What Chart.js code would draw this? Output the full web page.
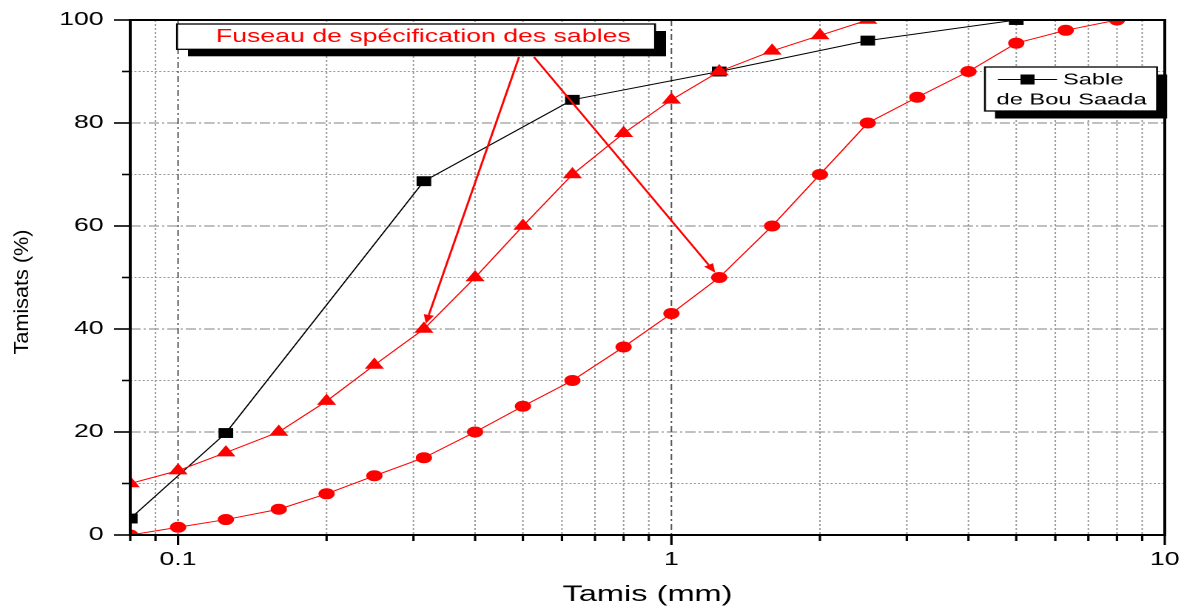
<!DOCTYPE html>
<html>
<head>
<meta charset="utf-8">
<script src="https://cdn.jsdelivr.net/npm/chart.js@4.4.1/dist/chart.umd.min.js"></script>
<style>
  html, body { margin: 0; padding: 0; background: #fff; overflow: hidden; }
  /* the reference picture is stretched horizontally, so the canvas is too */
  #courbe { width: 800px; height: 608px; transform: scaleX(1.48); transform-origin: 0 0; }
</style>
</head>
<body>
<canvas id="courbe" width="800" height="608"></canvas>
<script>
const FONT = "'Liberation Sans', Arial, sans-serif";

// fuseau de spécification - limite supérieure
const sievesUpper = [0.08, 0.1, 0.125, 0.16, 0.2, 0.25, 0.315, 0.4, 0.5, 0.63, 0.8, 1, 1.25, 1.6, 2, 2.5];
const passingUpper = [10, 12.5, 16, 20, 26, 33, 40, 50, 60, 70, 78, 84.5, 90, 94, 97, 100];

// fuseau de spécification - limite inférieure
const sievesLower = [0.08, 0.1, 0.125, 0.16, 0.2, 0.25, 0.315, 0.4, 0.5, 0.63, 0.8, 1, 1.25, 1.6, 2, 2.5, 3.15, 4, 5, 6.3, 8];
const passingLower = [0, 1.5, 3, 5, 8, 11.5, 15, 20, 25, 30, 36.5, 43, 50, 60, 70, 80, 85, 90, 95.5, 98, 100];

// sable de Bou Saada
const sievesSand = [0.08, 0.125, 0.315, 0.63, 1.25, 2.5, 5];
const passingSand = [3.2, 19.8, 68.7, 84.5, 90, 96, 100];

const xTickValues = [0.08, 0.09, 0.1, 0.2, 0.3, 0.4, 0.5, 0.6, 0.7, 0.8, 0.9, 1, 2, 3, 4, 5, 6, 7, 8, 9, 10];
const xTickLabels = { 0.1: '0.1', 1: '1', 10: '10' };
const yTickLabels = [0, 20, 40, 60, 80, 100];

const annotationText = 'Fuseau de spécification des sables';
const arrowTargets = [[0.315, 40], [1.25, 50]];
const legendLines = ['Sable', 'de Bou Saada'];

const pts = (xs, ys) => xs.map((x, i) => ({ x, y: ys[i] }));

function line(ctx, x0, y0, x1, y1) {
  ctx.beginPath();
  ctx.moveTo(x0, y0);
  ctx.lineTo(x1, y1);
  ctx.stroke();
}

function arrow(ctx, x0, y0, x1, y1) {
  const ang = Math.atan2(y1 - y0, x1 - x0);
  const head = 9, half = 3.5;
  const bx = x1 - head * Math.cos(ang), by = y1 - head * Math.sin(ang);
  line(ctx, x0, y0, bx, by);
  ctx.beginPath();
  ctx.moveTo(x1, y1);
  ctx.lineTo(bx + half * Math.sin(ang), by - half * Math.cos(ang));
  ctx.lineTo(bx - half * Math.sin(ang), by + half * Math.cos(ang));
  ctx.closePath();
  ctx.fill();
}

function shadowBox(ctx, l, t, r, b, dx, dy) {
  ctx.fillStyle = '#000';
  ctx.fillRect(l + dx, t + dy, r - l, b - t);
  ctx.fillStyle = '#fff';
  ctx.fillRect(l, t, r - l, b - t);
  ctx.strokeStyle = '#000';
  ctx.lineWidth = 1.3;
  ctx.strokeRect(l, t, r - l, b - t);
}

const decor = {
  id: 'decor',
  beforeDatasetsDraw(chart) {
    const { ctx, chartArea: a, scales: { x, y } } = chart;
    ctx.save();
    ctx.lineWidth = 1;
    y.ticks.forEach(t => {
      if (t.value <= 0 || t.value >= 100) return;
      const py = y.getPixelForValue(t.value);
      const major = yTickLabels.includes(t.value);
      ctx.strokeStyle = major ? '#808080' : '#9a9a9a';
      ctx.setLineDash(major ? [7, 2, 1.5, 2] : [1.4, 1.4]);
      line(ctx, a.left, py, a.right, py);
    });
    x.ticks.forEach(t => {
      if (t.value <= x.min || t.value >= x.max) return;
      const px = x.getPixelForValue(t.value);
      const major = t.value in xTickLabels;
      ctx.strokeStyle = major ? '#555' : '#9a9a9a';
      ctx.setLineDash(major ? [6, 3, 2, 3] : [2, 2]);
      line(ctx, px, a.top, px, a.bottom);
    });
    ctx.restore();
  },
  afterDraw(chart) {
    const { ctx, chartArea: a, scales: { x, y } } = chart;
    ctx.save();

    // cadre et graduations
    ctx.strokeStyle = '#000';
    ctx.lineWidth = 2;
    ctx.strokeRect(a.left, a.top, a.right - a.left, a.bottom - a.top);
    ctx.lineWidth = 1.6;
    y.ticks.forEach(t => {
      const py = y.getPixelForValue(t.value);
      line(ctx, a.left - (yTickLabels.includes(t.value) ? 11 : 5.5), py, a.left, py);
    });
    x.ticks.forEach(t => {
      const px = x.getPixelForValue(t.value);
      line(ctx, px, a.bottom, px, a.bottom + (t.value in xTickLabels ? 10 : 6));
    });

    // flèches vers les deux limites du fuseau
    const starts = [[350.7, 57], [360.8, 57]];
    ctx.strokeStyle = ctx.fillStyle = '#ff0000';
    ctx.lineWidth = 1.5;
    arrowTargets.forEach(([v, p], i) => {
      const [sx, sy] = starts[i];
      const px = x.getPixelForValue(v), py = y.getPixelForValue(p);
      const len = Math.hypot(px - sx, py - sy);
      arrow(ctx, sx, sy, px - 5.5 * (px - sx) / len, py - 5.5 * (py - sy) / len);
    });

    // étiquette du fuseau
    shadowBox(ctx, 119.6, 24, 442.6, 49.3, 7.4, 7);
    ctx.fillStyle = '#ff0000';
    ctx.font = `18px ${FONT}`;
    ctx.textAlign = 'center';
    ctx.textBaseline = 'middle';
    ctx.fillText(annotationText, 286, 37);

    // légende
    shadowBox(ctx, 665.5, 67, 781.8, 111, 6.8, 7.5);
    ctx.strokeStyle = '#000';
    ctx.lineWidth = 1;
    line(ctx, 674.3, 79.5, 714.2, 79.5);
    ctx.fillStyle = '#000';
    ctx.fillRect(689.5, 74.5, 9.5, 10);
    ctx.font = `16px ${FONT}`;
    ctx.textAlign = 'left';
    ctx.fillText(legendLines[0], 718.2, 80);
    ctx.textAlign = 'center';
    ctx.fillText(legendLines[1], 724, 100);

    // titre de l'axe vertical
    ctx.translate(15, 292);
    ctx.rotate(-Math.PI / 2);
    ctx.font = `14px ${FONT}`;
    const w = ctx.measureText('Tamisats (%)').width;
    ctx.scale(125 / w, 1);
    ctx.fillText('Tamisats (%)', 0, 0);

    ctx.restore();
  }
};

new Chart(document.getElementById('courbe'), {
  type: 'line',
  data: {
    datasets: [
      {
        label: 'Limite supérieure',
        data: pts(sievesUpper, passingUpper),
        borderColor: '#ff0000',
        backgroundColor: '#ff0000',
        borderWidth: 1,
        pointStyle: 'triangle',
        pointRadius: 7.5,
        pointBorderWidth: 0,
        clip: 0,
      },
      {
        label: 'Limite inférieure',
        data: pts(sievesLower, passingLower),
        borderColor: '#ff0000',
        backgroundColor: '#ff0000',
        borderWidth: 1,
        pointStyle: 'circle',
        pointRadius: 5.5,
        pointBorderWidth: 0,
        clip: 0,
      },
      {
        label: 'Sable de Bou Saada',
        data: pts(sievesSand, passingSand),
        borderColor: '#000',
        backgroundColor: '#000',
        borderWidth: 1,
        pointStyle: 'rect',
        pointRadius: 7,
        pointBorderWidth: 0,
        clip: 0,
      },
    ],
  },
  options: {
    responsive: false,
    devicePixelRatio: 2,
    animation: false,
    layout: { padding: { top: 20, right: 13, left: 0, bottom: 0 }, autoPadding: false },
    plugins: { legend: { display: false }, tooltip: { enabled: false } },
    scales: {
      x: {
        type: 'logarithmic',
        min: 0.08,
        max: 10,
        afterFit: s => { s.height = 73; s.paddingLeft = 0; s.paddingRight = 0; },
        afterBuildTicks: s => { s.ticks = xTickValues.map(v => ({ value: v })); },
        grid: { display: false, drawTicks: false },
        border: { display: false },
        ticks: {
          autoSkip: false,
          maxRotation: 0,
          padding: 14,
          color: '#000',
          font: { family: FONT, size: 18 },
          callback: v => xTickLabels[v] ?? '',
        },
        title: {
          display: true,
          text: 'Tamis (mm)',
          color: '#000',
          font: { family: FONT, size: 22 },
          padding: 0,
        },
      },
      y: {
        min: 0,
        max: 100,
        afterFit: s => { s.width = 88; s.paddingTop = 0; s.paddingBottom = 0; },
        grid: { display: false, drawTicks: false },
        border: { display: false },
        ticks: {
          stepSize: 10,
          autoSkip: false,
          padding: 18,
          color: '#000',
          font: { family: FONT, size: 18 },
          callback: v => (yTickLabels.includes(v) ? String(v) : ''),
        },
      },
    },
  },
  plugins: [decor],
});
</script>
</body>
</html>
